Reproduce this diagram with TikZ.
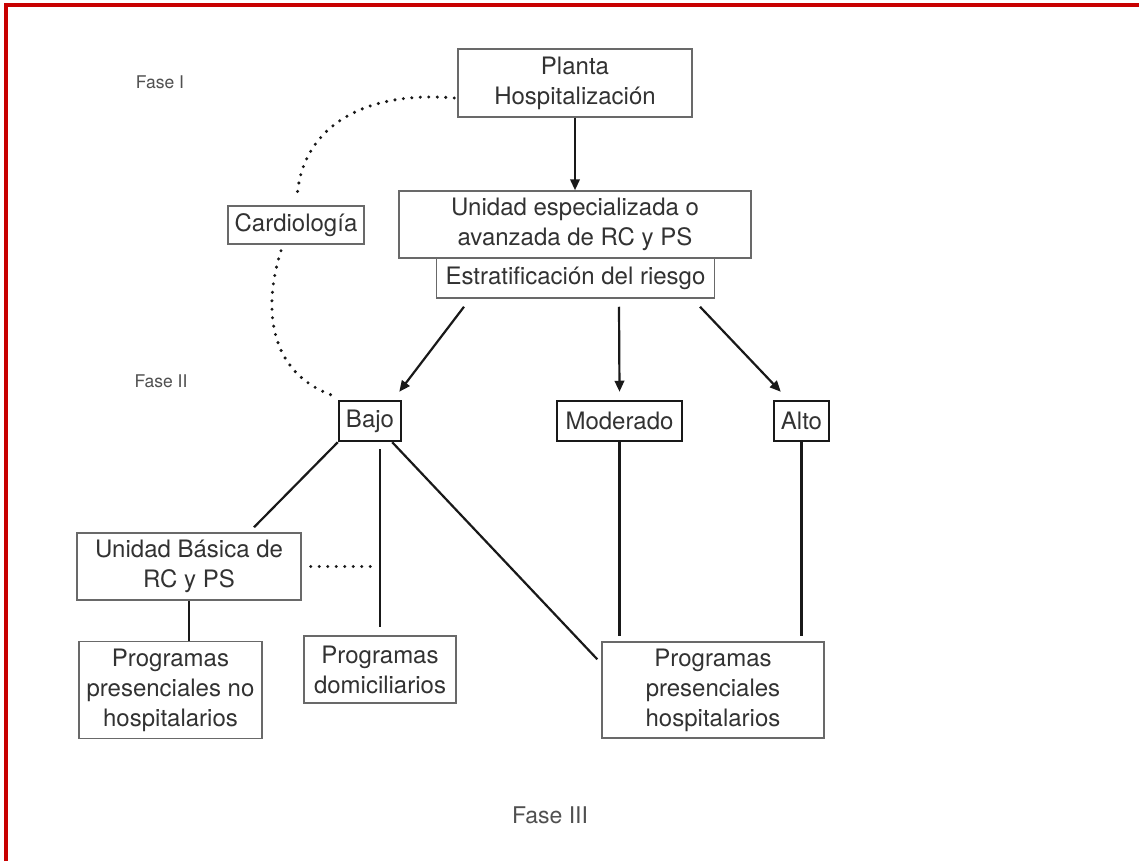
\documentclass[tikz,border=0pt]{standalone}
\usepackage{fontspec}
\setmainfont{TeX Gyre Heros}
\usetikzlibrary{arrows.meta,calc}
\definecolor{frame}{RGB}{200,0,0}
\definecolor{txt}{RGB}{50,50,50}
\definecolor{fasegray}{RGB}{80,80,80}
\definecolor{boxgray}{RGB}{105,105,105}
\definecolor{darkline}{RGB}{25,25,25}
\begin{document}
\begin{tikzpicture}[x=1pt,y=-1pt,
  box/.style={draw=boxgray, line width=1.5pt, text=txt, align=center, inner sep=0pt,
    font=\fontsize{24}{30}\selectfont},
  riskbox/.style={box, draw=darkline, line width=2.5pt},
  fase/.style={text=fasegray, inner sep=0pt},
  conn/.style={draw=darkline, line width=2.2pt},
  arr/.style={conn, -{Triangle[length=11pt,width=9.5pt]}},
  dotline/.style={draw=darkline, line width=3.4pt, line cap=round, dash pattern=on 0pt off 8.5pt}
]
\useasboundingbox (0,0) rectangle (1139,861);
\fill[white] (0,0) rectangle (1139,861);
% red frame (top and left edges)
\draw[frame, line width=4pt] (6,861) -- (6,5) -- (1139,5);

% phase labels
\node[fase, font=\fontsize{17.5}{20}\selectfont] (f1) at (160,82) {Fase I};
\node[fase, font=\fontsize{17.5}{20}\selectfont] (f2) at (161,381) {Fase II};
\node[fase, font=\fontsize{23}{26}\selectfont] (f3) at (550,815) {Fase III};

% nodes
\node[box, minimum width=234, minimum height=68] (planta) at (575,83) {Planta\\Hospitalización};
\node[box, minimum width=352, minimum height=67] (unidad) at (575,224.5) {Unidad especializada o\\avanzada de RC y PS};
\node[box, minimum width=278, minimum height=40] (estrat) at (575.5,278) {Estratificación del riesgo};
\node[box, minimum width=136, minimum height=38] (cardio) at (296,225) {Cardiología};
\node[riskbox, minimum width=62, minimum height=40] (bajo) at (370,421) {Bajo};
\node[riskbox, minimum width=125, minimum height=40] (moderado) at (619.5,421) {Moderado};
\node[riskbox, minimum width=55, minimum height=40] (alto) at (801.5,421) {Alto};
\node[box, minimum width=224, minimum height=67] (ubasica) at (189,566.5) {Unidad Básica de\\RC y PS};
\node[box, minimum width=183, minimum height=97] (pnohosp) at (170.5,690) {Programas\\presenciales no\\hospitalarios};
\node[box, minimum width=152, minimum height=67] (pdomic) at (380,669.5) {Programas\\domiciliarios};
\node[box, minimum width=222, minimum height=96] (phosp) at (713,690) {Programas\\presenciales\\hospitalarios};

% arrows
\draw[arr] (planta.south) -- (unidad.north);
\draw[arr] ($(estrat.south)+(-111.5,8)$) -- ($(bajo.north east)+(-3,-8)$);
\draw[arr] ($(estrat.south)+(43.5,8)$) -- ($(moderado.north)+(0,-8)$);
\draw[arr] ($(estrat.south)+(124.5,8)$) -- ($(alto.north west)+(8,-8)$);

% lines
\draw[conn] (bajo.south west) -- ($(ubasica.north)+(65,-5)$);
\draw[conn] ($(bajo.south)+(10,7)$) -- ($(pdomic.north)+(0,-8)$);
\draw[conn] ($(bajo.south east)+(-10,0)$) -- ($(phosp.north west)+(-4,18)$);
\draw[conn] (moderado.south) -- ($(moderado.south |- phosp.north)+(0,-5)$);
\draw[conn] (alto.south) -- ($(alto.south |- phosp.north)+(0,-5)$);
\draw[conn] (ubasica.south) -- (ubasica.south |- pnohosp.north);

% dotted connectors
\draw[dotline] ($(ubasica.east)+(9,0)$) -- ($(ubasica.east)+(72,0)$);
\draw[dotline] ($(planta.west)+(-3,15)$) .. controls (360,90) and (300,130) .. ($(cardio.north)+(1,-6)$);
\draw[dotline] ($(cardio.south)+(-15,6)$) .. controls (262,310) and (270,372) .. ($(bajo.north west)+(-7,-5)$);
\end{tikzpicture}
\end{document}
